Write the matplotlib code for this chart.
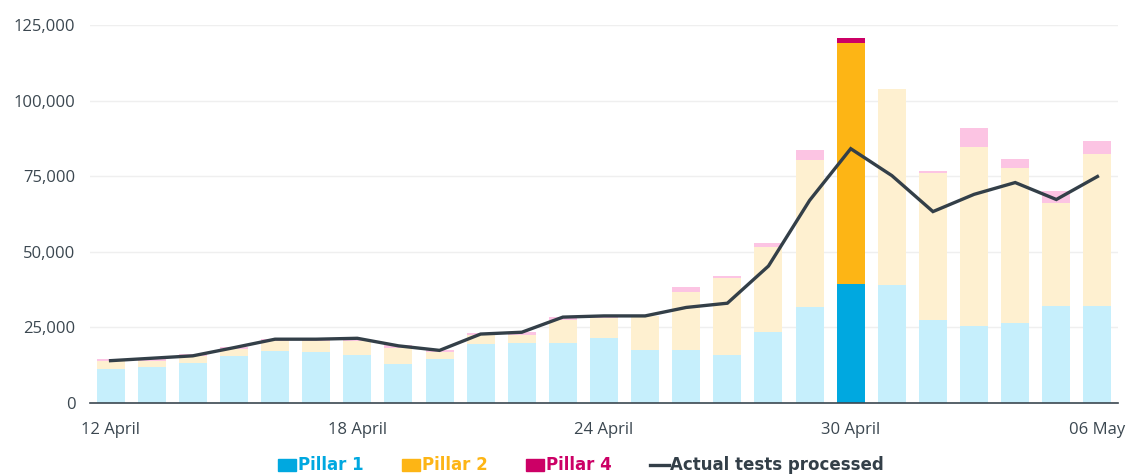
import matplotlib
matplotlib.use("Agg")
import matplotlib.pyplot as plt
from matplotlib.patches import Patch
from matplotlib.lines import Line2D
from matplotlib.ticker import FuncFormatter
import numpy as np

dates = ["12 April", "13 April", "14 April", "15 April", "16 April", "17 April", "18 April",
         "19 April", "20 April", "21 April", "22 April", "23 April", "24 April", "25 April",
         "26 April", "27 April", "28 April", "29 April", "30 April", "01 May", "02 May",
         "03 May", "04 May", "05 May", "06 May"]
pillar1 = [11200, 11900, 13200, 15600, 17200, 16900, 15900, 12900, 14600, 19600, 20000, 20000,
           21600, 17600, 17600, 16000, 23600, 31900, 39500, 38900, 27600, 25600, 26600, 32200, 32200]
pillar2 = [2700, 2000, 2300, 2100, 3200, 3500, 4700, 5200, 2300, 2800, 2600, 7600,
           6400, 11100, 19200, 25500, 28100, 48300, 79400, 65100, 48600, 58900, 51200, 34100, 50300]
pillar4 = [700, 800, 700, 700, 600, 300, 300, 1000, 600, 900, 1000, 1000,
           700, 0, 1700, 600, 1300, 3300, 1900, 0, 600, 6600, 3000, 3900, 4300]
actual = [14000, 14800, 15600, 18300, 21100, 21100, 21400, 18900, 17400, 22800, 23400, 28400,
          28800, 28800, 31600, 33000, 45300, 67000, 84100, 75200, 63300, 69000, 72900, 67300, 74900]
tick_labels = ["12 April", "18 April", "24 April", "30 April", "06 May"]
highlight = "30 April"

C1, C1L = "#00a8e0", "#c6effc"
C2, C2L = "#fdb515", "#fef0d0"
C4, C4L = "#cc0066", "#fcc4e3"
CL = "#333f48"

plt.rcParams['font.family'] = ['Open Sans', 'DejaVu Sans']

fig = plt.figure(figsize=(11.26, 4.74), dpi=100)
ax = fig.add_axes([90/1126, 1-403/474, 1028/1126, 378/474])

x = np.arange(len(dates))
p1 = np.array(pillar1); p2 = np.array(pillar2); p4 = np.array(pillar4)
c1 = [C1 if d == highlight else C1L for d in dates]
c2 = [C2 if d == highlight else C2L for d in dates]
c4 = [C4 if d == highlight else C4L for d in dates]
w = 0.68
ax.bar(x, p1, w, color=c1, zorder=2)
ax.bar(x, p2, w, bottom=p1, color=c2, zorder=2)
ax.bar(x, p4, w, bottom=p1 + p2, color=c4, zorder=2)
ax.plot(x, actual, color=CL, lw=2.4, zorder=3, solid_joinstyle='miter')

ax.set_xlim(-0.5, len(dates) - 0.5)
ax.set_ylim(0, 125000)
ax.set_yticks([0, 25000, 50000, 75000, 100000, 125000])
ax.yaxis.set_major_formatter(FuncFormatter(lambda v, p: f"{int(v):,}"))
ax.grid(axis='y', color='#efefef', lw=1, zorder=0)
ax.set_axisbelow(True)
for s in ['top', 'right', 'left']:
    ax.spines[s].set_visible(False)
ax.spines['bottom'].set_color('#3b4750')
ax.spines['bottom'].set_linewidth(1.2)
ax.spines['bottom'].set_zorder(4)
ax.set_xticks([dates.index(t) for t in tick_labels])
ax.set_xticklabels(tick_labels)
ax.tick_params(axis='both', length=0, labelsize=12, colors='#3b4750')
ax.tick_params(axis='y', pad=10.5)
ax.tick_params(axis='x', pad=14)

handles = [Patch(color=C1), Patch(color=C2), Patch(color=C4), Line2D([0], [0], color=CL, lw=2.4)]
labels = ["Pillar 1", "Pillar 2", "Pillar 4", "Actual tests processed"]
leg = fig.legend(handles, labels, loc='center', bbox_to_anchor=(0.516, 0.018), ncol=4,
                 frameon=False, handlelength=1.1, handleheight=0.75, handletextpad=0.1,
                 columnspacing=2.3,
                 prop={'family': ['DejaVu Sans'], 'weight': 'bold', 'size': 12})
for t, c in zip(leg.get_texts(), [C1, C2, C4, CL]):
    t.set_color(c)

fig.savefig("out.png", dpi=100)
